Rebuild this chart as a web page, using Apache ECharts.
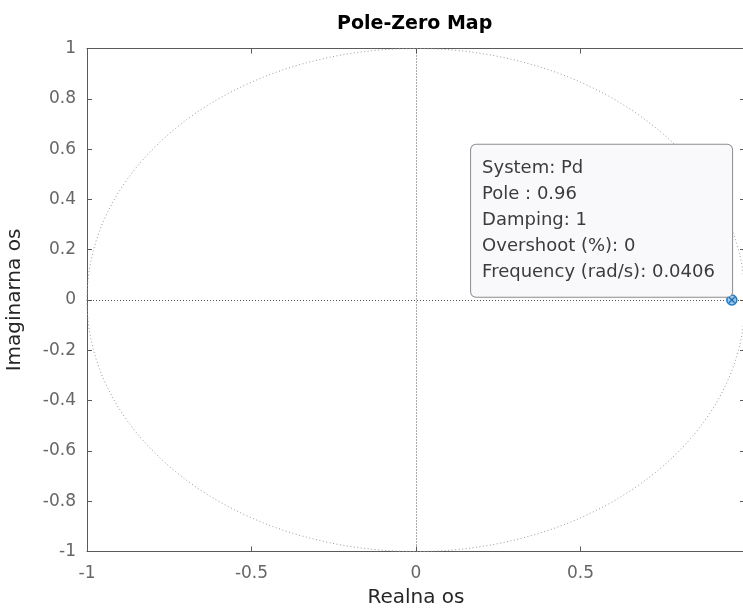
<!DOCTYPE html>
<html><head><meta charset="utf-8">
<script src="https://cdn.jsdelivr.net/npm/echarts@6/dist/echarts.min.js"></script>
<style>html,body{margin:0;padding:0;background:#fff;overflow:hidden}#c{width:745px;height:613px}</style>
</head><body><div id="c"></div>
<script>
const chartTitle = 'Pole-Zero Map';
const xAxisName = 'Realna os';
const yAxisName = 'Imaginarna os';
const xRange = [-1, 1];
const yRange = [-1, 1];
const xTickStep = 0.5;
const yTickStep = 0.2;
const poles = [[0.96, 0]];
const unitCircle = [[0, 0, 1]]; // centre x, centre y, radius
const dataTipLines = ['System: Pd', 'Pole : 0.96', 'Damping: 1', 'Overshoot (%): 0', 'Frequency (rad/s): 0.0406'];

const FONT = 'DejaVu Sans';
const axisColor = '#5a5a5a';
const labelColor = '#666666';

const chart = echarts.init(document.getElementById('c'), null, {renderer: 'canvas'});

const baseX = {
  type: 'value', min: xRange[0], max: xRange[1], interval: xTickStep,
  splitLine: {show: false},
  axisLine: {show: true, onZero: false, lineStyle: {color: axisColor, width: 1}},
  axisTick: {show: true, inside: true, length: 5, lineStyle: {color: axisColor}}
};
const baseY = {
  type: 'value', min: yRange[0], max: yRange[1], interval: yTickStep,
  splitLine: {show: false},
  axisLine: {show: true, onZero: false, lineStyle: {color: axisColor, width: 1}},
  axisTick: {show: true, inside: true, length: 5, lineStyle: {color: axisColor}}
};

chart.setOption({
  animation: false,
  backgroundColor: '#ffffff',
  title: {
    text: chartTitle, left: 332, top: 10,
    textStyle: {fontFamily: FONT, fontWeight: 'bold', fontSize: 19, color: '#000'}
  },
  grid: {left: 87, right: 0, top: 48.5, bottom: 61.5, containLabel: false, outerBoundsMode: 'none'},
  xAxis: [
    Object.assign({}, baseX, {
      position: 'bottom',
      name: xAxisName, nameLocation: 'middle', nameGap: 33,
      nameTextStyle: {fontFamily: FONT, fontSize: 20, color: '#262626'},
      axisLabel: {show: true, margin: 14, showMaxLabel: false, fontFamily: FONT, fontSize: 17, color: labelColor}
    }),
    Object.assign({}, baseX, {position: 'top', axisLabel: {show: false}})
  ],
  yAxis: [
    Object.assign({}, baseY, {
      position: 'left',
      name: yAxisName, nameLocation: 'middle', nameGap: 62,
      nameTextStyle: {fontFamily: FONT, fontSize: 20, color: '#262626'},
      axisLabel: {show: true, margin: 11, fontFamily: FONT, fontSize: 17, color: labelColor}
    }),
    Object.assign({}, baseY, {position: 'right', axisLabel: {show: false}})
  ],
  series: [
    {
      type: 'custom', name: 'unit circle', coordinateSystem: 'cartesian2d',
      xAxisIndex: 0, yAxisIndex: 0, silent: true, z: 1,
      data: unitCircle,
      encode: {x: 0, y: 1},
      renderItem: function (params, api) {
        const cx = api.value(0), cy = api.value(1), r = api.value(2);
        const c = api.coord([cx, cy]);
        const px = api.coord([cx + r, cy]);
        const py = api.coord([cx, cy + r]);
        return {
          type: 'ellipse',
          shape: {cx: c[0], cy: c[1], rx: Math.abs(px[0] - c[0]), ry: Math.abs(c[1] - py[1])},
          style: {fill: 'none', stroke: '#9a9a9a', lineWidth: 1, lineDash: [1, 2.5]}
        };
      },
      markLine: {
        silent: true, symbol: 'none', animation: false,
        label: {show: false},
        lineStyle: {color: '#555', width: 1, type: [1, 2]},
        data: [{xAxis: 0}, {yAxis: 0}]
      }
    },
    {
      type: 'scatter', name: 'poles', xAxisIndex: 0, yAxisIndex: 0, z: 5,
      data: poles,
      symbol: 'circle', symbolSize: 10,
      itemStyle: {color: '#9cc9ec', borderColor: '#1f7cc4', borderWidth: 1.5, opacity: 1},
      label: {
        show: true,
        position: [-255, -149.5],
        align: 'left', verticalAlign: 'top',
        formatter: function () { return dataTipLines.join('\n'); },
        fontFamily: FONT, fontSize: 18, lineHeight: 26, color: '#3c3c3c',
        backgroundColor: '#f9f9fb', borderColor: '#8c8c8c', borderWidth: 1, borderRadius: 5,
        width: 239, padding: [11, 11, 11, 11]
      },
      labelLayout: {hideOverlap: false}
    },
    {
      type: 'custom', name: 'pole cross', coordinateSystem: 'cartesian2d',
      xAxisIndex: 0, yAxisIndex: 0, silent: true, z: 6,
      data: poles,
      encode: {x: 0, y: 1},
      renderItem: function (params, api) {
        const p = api.coord([api.value(0), api.value(1)]);
        const d = 2.8;
        const st = {stroke: '#1f6fb4', lineWidth: 1.3};
        return {
          type: 'group',
          children: [
            {type: 'line', shape: {x1: p[0] - d, y1: p[1] - d, x2: p[0] + d, y2: p[1] + d}, style: st},
            {type: 'line', shape: {x1: p[0] - d, y1: p[1] + d, x2: p[0] + d, y2: p[1] - d}, style: st}
          ]
        };
      }
    }
  ]
});
</script>
</body></html>
